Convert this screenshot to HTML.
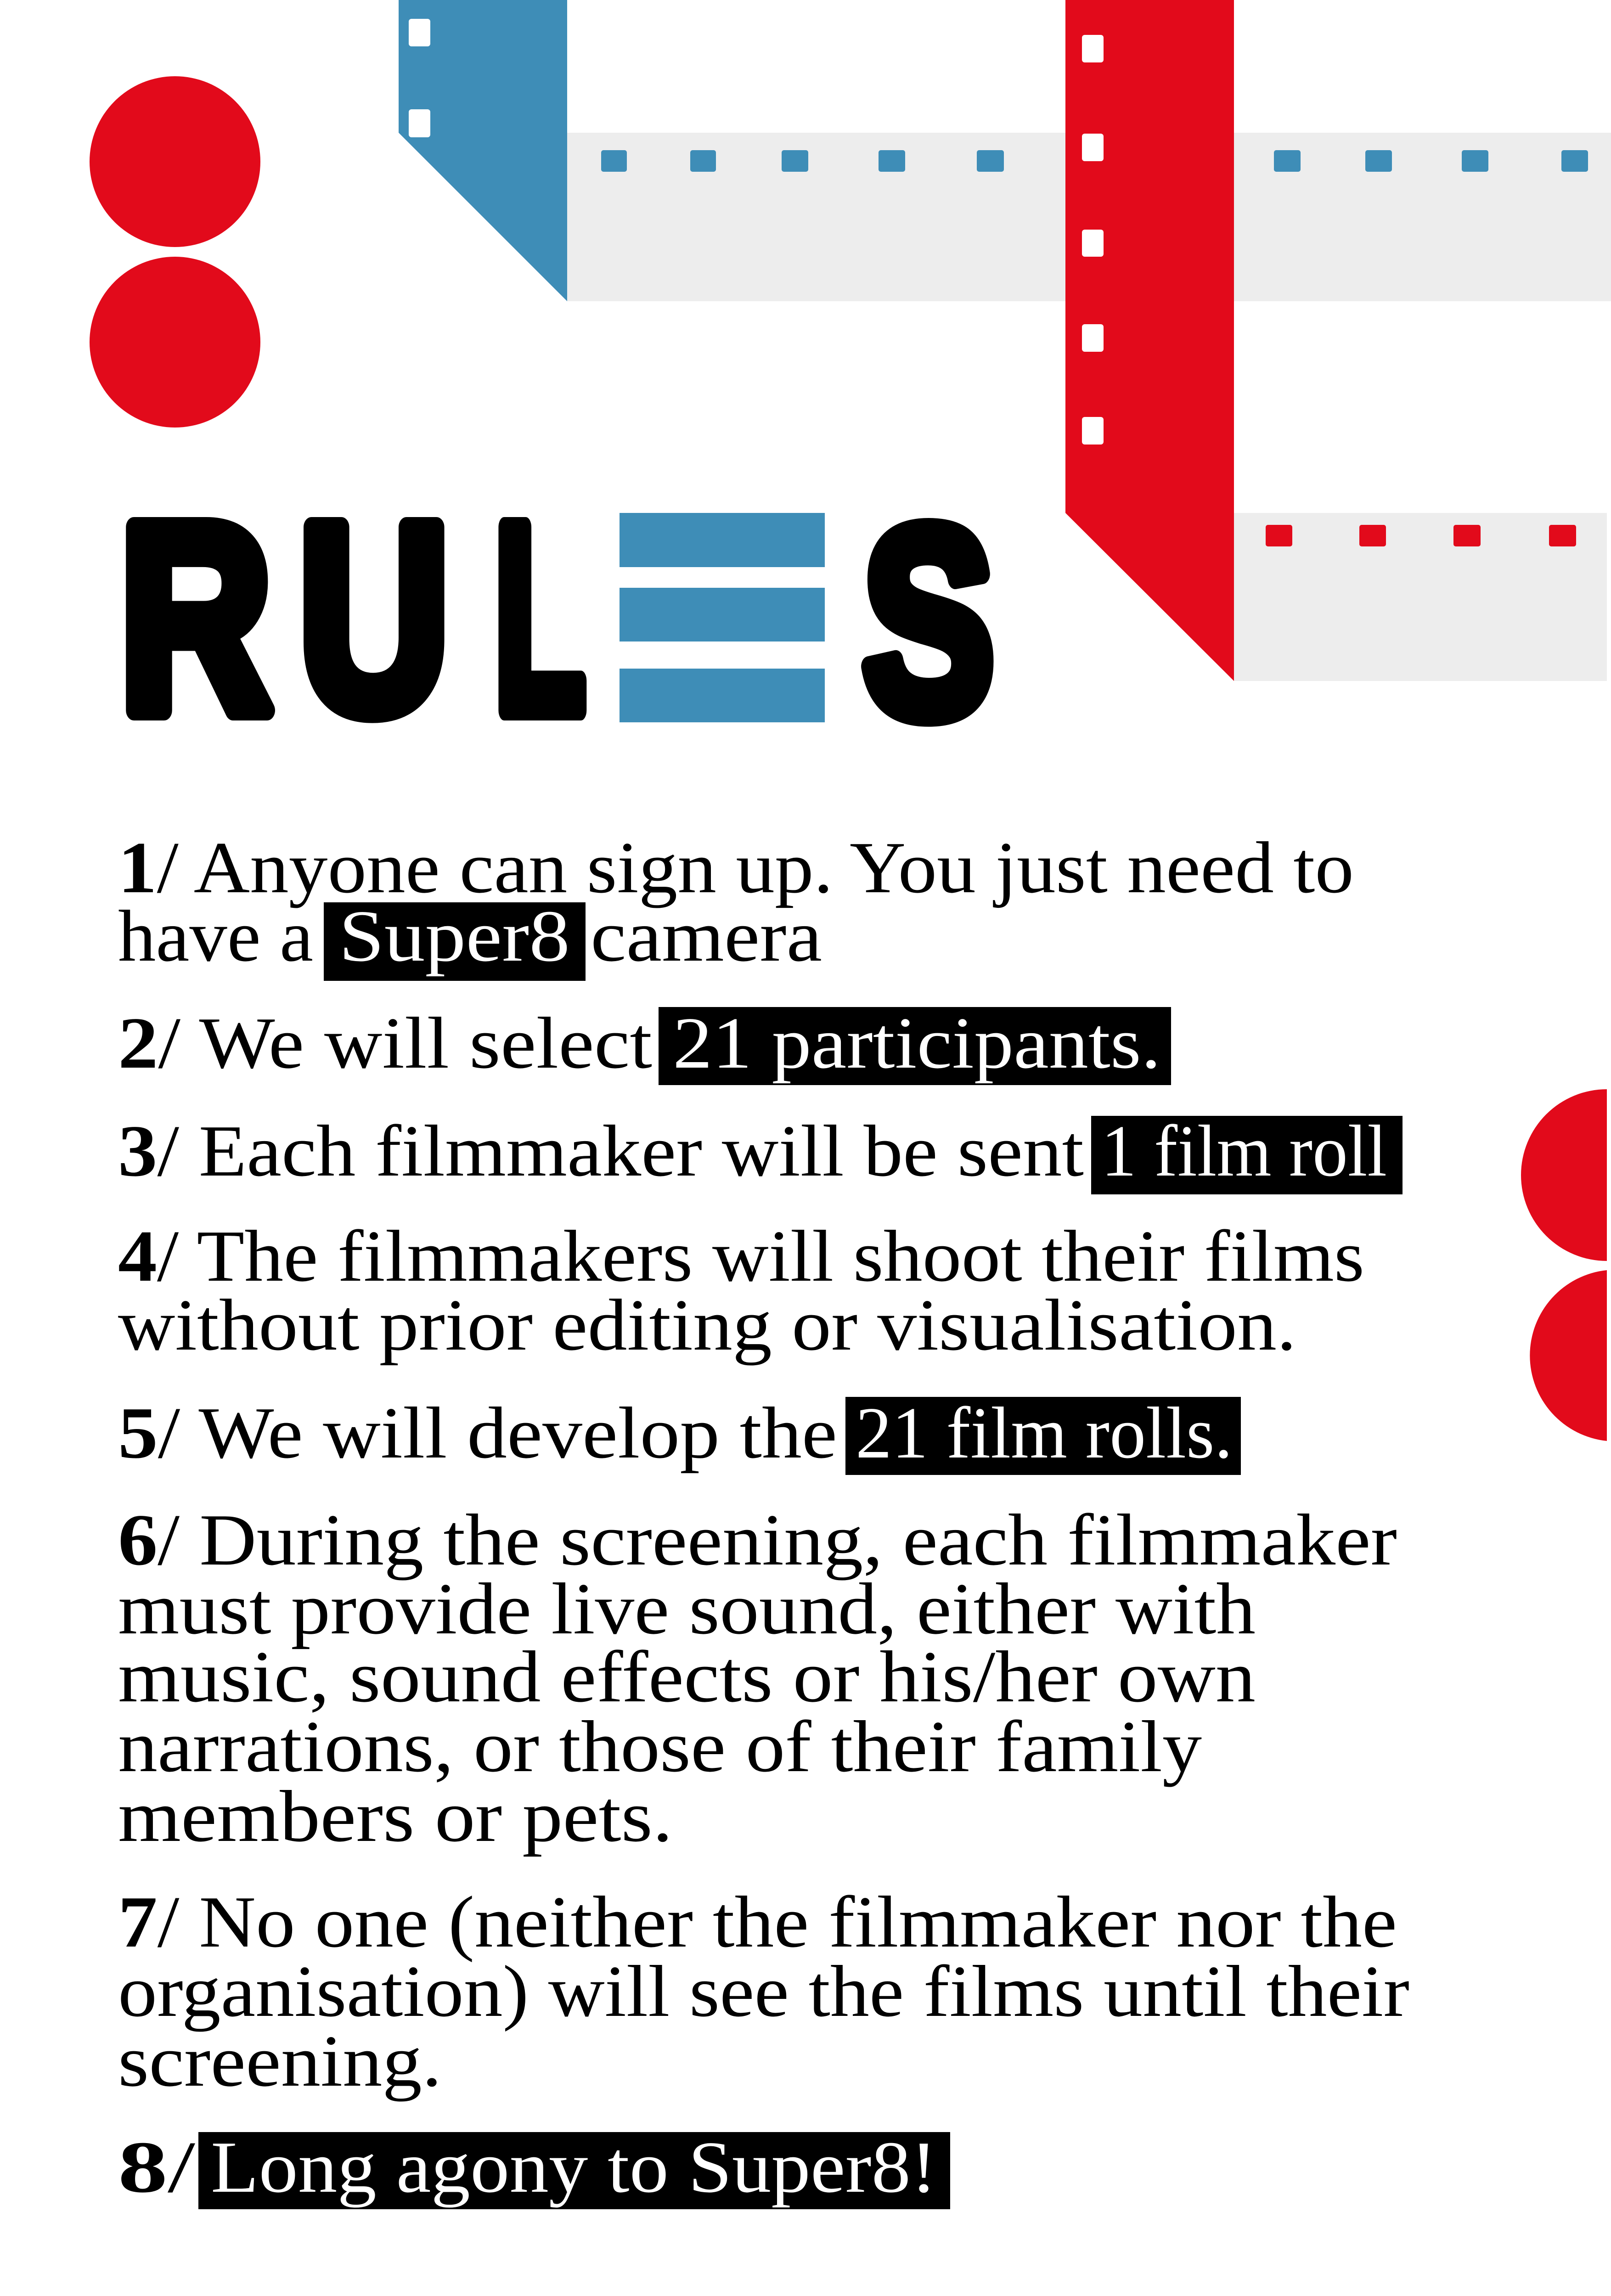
<!DOCTYPE html>
<html><head><meta charset="utf-8"><style>html,body{margin:0;padding:0;background:#fff;width:3508px;height:5082px;overflow:hidden}svg{display:block;position:absolute;left:0;top:0}</style></head>
<body>
<svg xmlns="http://www.w3.org/2000/svg" width="3508" height="5082" viewBox="0 0 3508 5082">
<rect width="3508" height="5082" fill="#fff"/>
<rect x="1235" y="289" width="2273" height="367" fill="#ededed"/>
<rect x="2687" y="1117" width="812" height="366" fill="#ededed"/>
<polygon points="868,0 1235,0 1235,656 868,289" fill="#3e8db7"/>
<rect x="890" y="41" width="47" height="60" rx="6" fill="#fff"/>
<rect x="890" y="238" width="47" height="61" rx="6" fill="#fff"/>
<g fill="#3e8db7">
<rect x="1309" y="327" width="56" height="47" rx="5"/>
<rect x="1503" y="327" width="56" height="47" rx="5"/>
<rect x="1702" y="327" width="58" height="47" rx="5"/>
<rect x="1913" y="327" width="58" height="47" rx="5"/>
<rect x="2127" y="327" width="59" height="47" rx="5"/>
<rect x="2774" y="327" width="58" height="47" rx="5"/>
<rect x="2973" y="327" width="58" height="47" rx="5"/>
<rect x="3183" y="327" width="58" height="47" rx="5"/>
<rect x="3400" y="327" width="58" height="47" rx="5"/>
</g>
<polygon points="2320,0 2687,0 2687,1483 2320,1117" fill="#e20a1b"/>
<g fill="#fff">
<rect x="2356" y="76" width="47" height="60" rx="6"/>
<rect x="2356" y="291" width="47" height="60" rx="6"/>
<rect x="2356" y="500" width="47" height="59" rx="6"/>
<rect x="2356" y="706" width="47" height="60" rx="6"/>
<rect x="2356" y="908" width="47" height="60" rx="6"/>
</g>
<g fill="#e20a1b">
<rect x="2756" y="1143" width="58" height="47" rx="5"/>
<rect x="2960" y="1143" width="58" height="47" rx="5"/>
<rect x="3165" y="1143" width="59" height="47" rx="5"/>
<rect x="3373" y="1143" width="59" height="47" rx="5"/>
</g>
<circle cx="381" cy="352" r="186" fill="#e20a1b"/>
<circle cx="381" cy="745" r="186" fill="#e20a1b"/>
<path d="M3499,2372 A187,187 0 0 0 3499,2746 Z" fill="#e20a1b"/>
<path d="M3499,2766 A187,187 0 0 0 3499,3138 Z" fill="#e20a1b"/>
<g font-family="Liberation Sans, sans-serif" font-weight="bold" font-size="580" fill="#000" stroke="#000" stroke-width="44" stroke-linejoin="round">
<text x="261" y="1547" textLength="330" lengthAdjust="spacingAndGlyphs">R</text>
<text x="651" y="1547" textLength="327" lengthAdjust="spacingAndGlyphs">U</text>
<text x="1076" y="1547" textLength="199" lengthAdjust="spacingAndGlyphs">L</text>
<text x="1879" y="1555" textLength="285" lengthAdjust="spacingAndGlyphs">S</text>
</g>
<g fill="#3e8db7">
<rect x="1349" y="1117" width="447" height="118"/>
<rect x="1349" y="1280" width="447" height="117"/>
<rect x="1349" y="1456" width="447" height="117"/>
</g>
<g fill="#000">
<rect x="705" y="1965" width="570" height="171"/>
<rect x="1434" y="2193" width="1116" height="170"/>
<rect x="2376" y="2430" width="678" height="171"/>
<rect x="1841" y="3042" width="861" height="170"/>
<rect x="432" y="4643" width="1637" height="168"/>
</g>
<g font-family="Liberation Serif, serif" font-size="160" fill="#000">
<text x="257" y="1943" textLength="2691" lengthAdjust="spacingAndGlyphs"><tspan font-weight="bold">1</tspan>/ Anyone can sign up. You just need to</text>
<text x="257" y="2092" textLength="425" lengthAdjust="spacingAndGlyphs">have a</text>
<text x="738" y="2092" textLength="503" lengthAdjust="spacingAndGlyphs" fill="#fff">Super8</text>
<text x="1286" y="2092" textLength="504" lengthAdjust="spacingAndGlyphs">camera</text>
<text x="257" y="2325" textLength="1163" lengthAdjust="spacingAndGlyphs"><tspan font-weight="bold">2</tspan>/ We will select</text>
<text x="1465" y="2325" textLength="1063" lengthAdjust="spacingAndGlyphs" fill="#fff">21 participants.</text>
<text x="257" y="2560" textLength="2103" lengthAdjust="spacingAndGlyphs"><tspan font-weight="bold">3</tspan>/ Each filmmaker will be sent</text>
<text x="2398" y="2560" textLength="622" lengthAdjust="spacingAndGlyphs" fill="#fff">1 film roll</text>
<text x="257" y="2789" textLength="2714" lengthAdjust="spacingAndGlyphs"><tspan font-weight="bold">4</tspan>/ The filmmakers will shoot their films</text>
<text x="257" y="2939" textLength="2566" lengthAdjust="spacingAndGlyphs">without prior editing or visualisation.</text>
<text x="257" y="3174" textLength="1566" lengthAdjust="spacingAndGlyphs"><tspan font-weight="bold">5</tspan>/ We will develop the</text>
<text x="1863" y="3174" textLength="821" lengthAdjust="spacingAndGlyphs" fill="#fff">21 film rolls.</text>
<text x="257" y="3407" textLength="2785" lengthAdjust="spacingAndGlyphs"><tspan font-weight="bold">6</tspan>/ During the screening, each filmmaker</text>
<text x="257" y="3557" textLength="2477" lengthAdjust="spacingAndGlyphs">must provide live sound, either with</text>
<text x="257" y="3705" textLength="2477" lengthAdjust="spacingAndGlyphs">music, sound effects or his/her own</text>
<text x="257" y="3857" textLength="2360" lengthAdjust="spacingAndGlyphs">narrations, or those of their family</text>
<text x="257" y="4009" textLength="1208" lengthAdjust="spacingAndGlyphs">members or pets.</text>
<text x="257" y="4239" textLength="2785" lengthAdjust="spacingAndGlyphs"><tspan font-weight="bold">7</tspan>/ No one (neither the filmmaker nor the</text>
<text x="257" y="4390" textLength="2812" lengthAdjust="spacingAndGlyphs">organisation) will see the films until their</text>
<text x="257" y="4542" textLength="705" lengthAdjust="spacingAndGlyphs">screening.</text>
<text x="257" y="4773" textLength="168" lengthAdjust="spacingAndGlyphs"><tspan font-weight="bold">8</tspan>/</text>
<text x="459" y="4773" textLength="1581" lengthAdjust="spacingAndGlyphs" fill="#fff">Long agony to Super8!</text>
</g>
</svg>
</body></html>
